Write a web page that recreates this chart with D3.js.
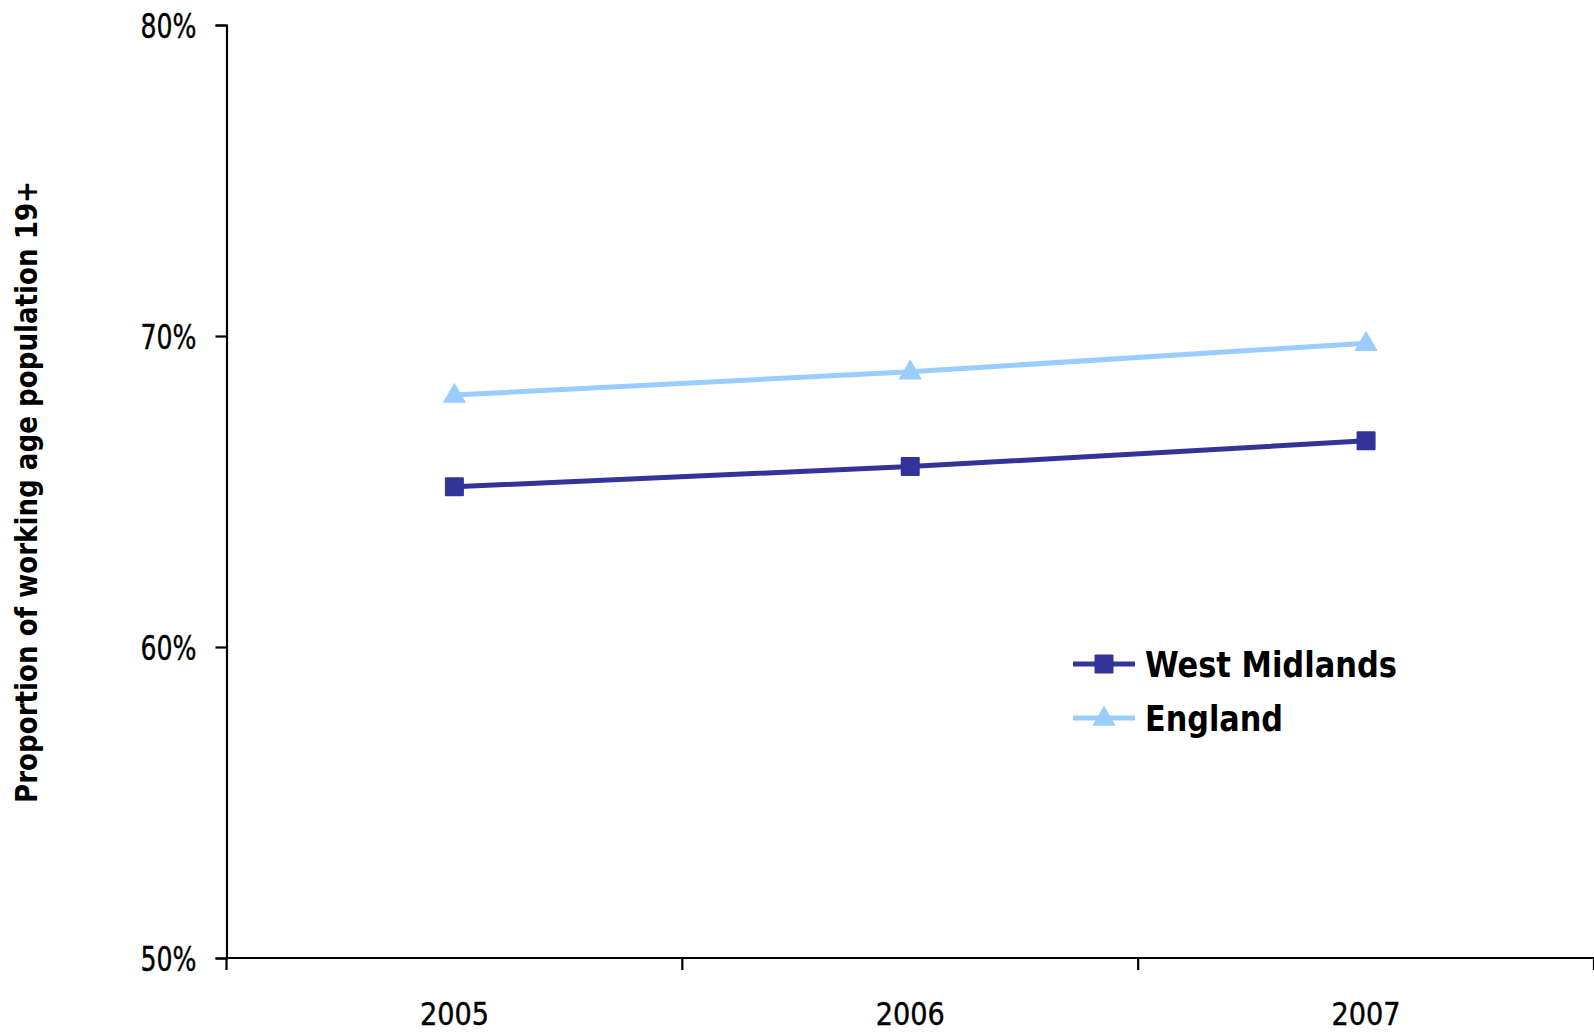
<!DOCTYPE html>
<html>
<head>
<meta charset="utf-8">
<script src="https://cdn.jsdelivr.net/npm/d3@7"></script>
<style>
  html, body { margin: 0; padding: 0; background: #fff; }
  svg { display: block; }
  text { font-family: Tahoma, "DejaVu Sans Condensed", "DejaVu Sans", sans-serif; fill: #000; }
</style>
</head>
<body>
<svg id="chart" width="1594" height="1033"></svg>
<script>
// ---- data ----
const years = ["2005", "2006", "2007"];
const westMidlands = [0.6515, 0.658, 0.6663];
const england = [0.681, 0.6885, 0.6977];
const seriesNames = ["West Midlands", "England"];
const yTicks = [0.5, 0.6, 0.7, 0.8];
const yTitle = "Proportion of working age population 19+";

// ---- layout ----
const W = 1594, H = 1033;
const plot = { left: 226.5, right: 1594, top: 25, bottom: 958 };
const colors = { wm: "#333399", eng: "#99CCFF" };

const svg = d3.select("#chart");

const x = d3.scaleBand().domain(years).range([plot.left, plot.right]).paddingInner(0).paddingOuter(0);
const y = d3.scaleLinear().domain([0.5, 0.8]).range([plot.bottom, plot.top]);

// Y axis
const yAxis = svg.append("g")
  .attr("transform", `translate(${plot.left},0)`)
  .call(d3.axisLeft(y).tickValues(yTicks).tickFormat(d3.format(".0%")).tickSize(11).tickPadding(19));
yAxis.select(".domain").attr("stroke", "#000").attr("stroke-width", 2.2);
yAxis.selectAll(".tick line").attr("stroke", "#000").attr("stroke-width", 2.2);
yAxis.selectAll(".tick text")
  .style("font-size", "34.5px")
  .style("stroke", "#000").style("stroke-width", 0.4)
  .attr("textLength", 56).attr("lengthAdjust", "spacingAndGlyphs")
  .attr("dy", "0.36em");

// X axis: line, ticks at band boundaries, labels at band centres
const xg = svg.append("g").attr("transform", `translate(0,${plot.bottom})`);
xg.append("line")
  .attr("x1", plot.left).attr("x2", plot.right)
  .attr("y1", 0).attr("y2", 0)
  .attr("stroke", "#000").attr("stroke-width", 2.2);
const boundaries = years.map(d => x(d)).concat([x(years[years.length - 1]) + x.bandwidth()]);
xg.selectAll("line.tk").data(boundaries).enter().append("line")
  .attr("class", "tk")
  .attr("x1", d => d).attr("x2", d => d)
  .attr("y1", 0).attr("y2", 12)
  .attr("stroke", "#000").attr("stroke-width", 2.2);
xg.selectAll("text.lbl").data(years).enter().append("text")
  .attr("class", "lbl")
  .attr("x", d => x(d) + x.bandwidth() / 2)
  .attr("y", 67)
  .attr("text-anchor", "middle")
  .style("font-size", "32px")
  .style("stroke", "#000").style("stroke-width", 0.4)
  .attr("textLength", 69).attr("lengthAdjust", "spacingAndGlyphs")
  .text(d => d);

// Y title
svg.append("text")
  .attr("transform", `translate(37,492) rotate(-90)`)
  .attr("text-anchor", "middle")
  .style("font-size", "30px").style("font-weight", "bold")
  .attr("textLength", 622).attr("lengthAdjust", "spacingAndGlyphs")
  .text(yTitle);

// Lines
const cx = d => x(d) + x.bandwidth() / 2;
const line = d3.line().x(d => cx(d[0])).y(d => y(d[1]));
const wmData = years.map((yr, i) => [yr, westMidlands[i]]);
const engData = years.map((yr, i) => [yr, england[i]]);

const tri = d3.symbol().type(d3.symbolTriangle).size(235);

svg.append("path").attr("d", line(engData))
  .attr("fill", "none").attr("stroke", colors.eng).attr("stroke-width", 5);
svg.append("path").attr("d", line(wmData))
  .attr("fill", "none").attr("stroke", colors.wm).attr("stroke-width", 5);

svg.selectAll("path.tri").data(engData).enter().append("path")
  .attr("class", "tri")
  .attr("d", tri)
  .attr("transform", d => `translate(${cx(d[0])},${y(d[1]) + 1})`)
  .attr("fill", colors.eng);

svg.selectAll("rect.sq").data(wmData).enter().append("rect")
  .attr("class", "sq")
  .attr("x", d => cx(d[0]) - 9.5).attr("y", d => y(d[1]) - 9.5)
  .attr("width", 19).attr("height", 19).attr("rx", 1)
  .attr("fill", colors.wm);

// Legend
const legend = svg.append("g").attr("transform", "translate(1073,664)");
const legendItems = [
  { name: seriesNames[0], color: colors.wm, marker: "square", len: 252 },
  { name: seriesNames[1], color: colors.eng, marker: "triangle", len: 138 }
];
legendItems.forEach((it, i) => {
  const g = legend.append("g").attr("transform", `translate(0,${i * 54})`);
  g.append("line").attr("x1", 0).attr("x2", 62).attr("y1", 0).attr("y2", 0)
    .attr("stroke", it.color).attr("stroke-width", 5);
  if (it.marker === "square") {
    g.append("rect").attr("x", 31 - 9.5).attr("y", -9.5).attr("width", 19).attr("height", 19)
      .attr("rx", 1).attr("fill", it.color);
  } else {
    g.append("path").attr("d", tri).attr("transform", "translate(31,1)").attr("fill", it.color);
  }
  g.append("text").attr("x", 72).attr("y", 13)
    .style("font-size", "36px").style("font-weight", "bold")
    .attr("textLength", it.len).attr("lengthAdjust", "spacingAndGlyphs")
    .text(it.name);
});
</script>
</body>
</html>
